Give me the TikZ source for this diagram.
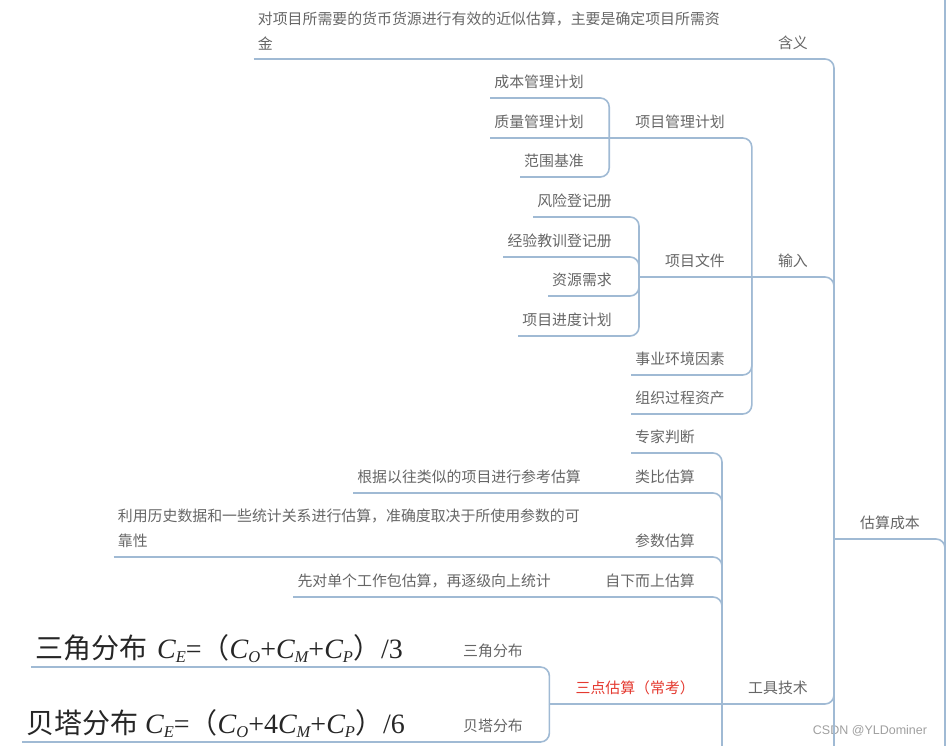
\documentclass[tikz,border=0pt]{standalone}
\usepackage{fontspec}
\setmainfont{Noto Sans CJK SC}
\newfontfamily\latinsans{Liberation Sans}
\newfontfamily\formulaserif{Liberation Serif}
\usetikzlibrary{calc}

\definecolor{busline}{RGB}{160,186,212}
\definecolor{topictext}{RGB}{102,102,102}
\definecolor{hotred}{RGB}{228,58,48}

% C with an italic subscript, as in the formulas
\newcommand{\cvar}[1]{{\formulaserif\itshape C\raisebox{-0.35ex}{\fontsize{16.5pt}{16.5pt}\selectfont #1}}}

\begin{document}
\begin{tikzpicture}[
    x=1pt, y=-1pt,
    uline/.style={draw=busline, line width=1.6pt},
    conn/.style={uline, rounded corners=9pt},
    topic/.style={font=\fontsize{14.9pt}{25pt}\selectfont, text=topictext,
      inner xsep=4pt, inner ysep=9pt, anchor=south east,
      append after command={(\tikzlastnode.south west) edge[uline] (\tikzlastnode.south east)}},
    hub/.style={topic, execute at begin node=\hspace*{22pt}},
    note/.style={topic, align=left},
    formula/.style={topic, font=\fontsize{28pt}{30pt}\selectfont, text=black!85, inner ysep=4pt}
  ]
  \useasboundingbox (0,0) rectangle (948,746);

  % Root bus and the main topic
  \coordinate (root) at (945,746);
  \coordinate (roottop) at (945,0);
  \node[hub] (gscb) at (924,539) {估算成本};

  % Meaning
  \node[hub] (hy) at (812,59) {含义};
  \node[note] (hyd) at (724,59) {对项目所需要的货币货源进行有效的近似估算，主要是确定项目所需资\\金};

  % Inputs
  \node[hub] (sr) at (812,277) {输入};
  \node[hub] (xmgl) at (729,138) {项目管理计划};
  \node[topic] (cbgl) at (588,98) {成本管理计划};
  \node[topic] (zlgl) at (588,138) {质量管理计划};
  \node[topic] (fwjz) at (588,177) {范围基准};
  \node[hub] (xmwj) at (729,277) {项目文件};
  \node[topic] (fxdj) at (616,217) {风险登记册};
  \node[topic] (jyjx) at (616,257) {经验教训登记册};
  \node[topic] (zyxq) at (616,296) {资源需求};
  \node[topic] (jdjh) at (616,336) {项目进度计划};
  \node[topic] (syhj) at (729,375) {事业环境因素};
  \node[topic] (zzgc) at (729,414) {组织过程资产};

  % Tools and techniques
  \node[hub] (gjjs) at (812,704) {工具技术};
  \node[topic] (zjpd) at (699,453) {专家判断};
  \node[hub] (lbgs) at (699,493) {类比估算};
  \node[note] (lbgsd) at (585,493) {根据以往类似的项目进行参考估算};
  \node[hub] (csgs) at (699,557) {参数估算};
  \node[note] (csgsd) at (584,557) {利用历史数据和一些统计关系进行估算，准确度取决于所使用参数的可\\靠性};
  \node[hub] (zxsg) at (699,597) {自下而上估算};
  \node[note] (zxsgd) at (555,597) {先对单个工作包估算，再逐级向上统计};
  \node[hub, text=hotred] (sdgs) at (699,704) {三点估算（常考）};
  \node[hub] (sjfb) at (527,667) {三角分布};
  \node[formula] (sjgs) at (407,667) {三角分布\hspace{10pt}\cvar{E}{\formulaserif=}（\cvar{O}{\formulaserif+}\cvar{M}{\formulaserif+}\cvar{P}）{\formulaserif/3}};
  \node[hub] (btfb) at (527,742) {贝塔分布};
  \node[formula] (btgs) at (409,742) {贝塔分布\hspace{7pt}\cvar{E}{\formulaserif=}（\cvar{O}{\formulaserif+4}\cvar{M}{\formulaserif+}\cvar{P}）{\formulaserif/6}};

  \node[font=\latinsans\fontsize{12.5pt}{14pt}\selectfont, text=gray!75] (csdn) at (870,731) {CSDN @YLDominer};

  % Connectors
  \draw[uline] (roottop) -- (root);
  \draw[conn] (root) |- (gscb.south east);
  \draw[conn] (gscb.south west) |- (hy.south east);
  \draw[conn] (gscb.south west) |- (sr.south east);
  \draw[conn] (gscb.south west) |- (gjjs.south east);
  \draw[uline] (gscb.south west) -- (gscb.south west |- root);
  \draw[uline] (hy.south west) -- (hyd.south east);

  \draw[conn] (sr.south west) |- (xmgl.south east);
  \draw[uline] (sr.south west) -- (xmwj.south east);
  \draw[conn] (sr.south west) |- (syhj.south east);
  \draw[conn] (sr.south west) |- (zzgc.south east);
  \draw[conn] (xmgl.south west) |- (cbgl.south east);
  \draw[uline] (xmgl.south west) -- (zlgl.south east);
  \draw[conn] (xmgl.south west) |- (fwjz.south east);
  \draw[conn] (xmwj.south west) |- (fxdj.south east);
  \draw[conn] (xmwj.south west) |- (jyjx.south east);
  \draw[conn] (xmwj.south west) |- (zyxq.south east);
  \draw[conn] (xmwj.south west) |- (jdjh.south east);

  \draw[conn] (gjjs.south west) |- (zjpd.south east);
  \draw[conn] (gjjs.south west) |- (lbgs.south east);
  \draw[conn] (gjjs.south west) |- (csgs.south east);
  \draw[conn] (gjjs.south west) |- (zxsg.south east);
  \draw[uline] (gjjs.south west) -- (sdgs.south east);
  \draw[uline] (gjjs.south west) -- (gjjs.south west |- root);
  \draw[uline] (lbgs.south west) -- (lbgsd.south east);
  \draw[uline] (csgs.south west) -- (csgsd.south east);
  \draw[uline] (zxsg.south west) -- (zxsgd.south east);
  \draw[conn] (sdgs.south west) |- (sjfb.south east);
  \draw[conn] (sdgs.south west) |- (btfb.south east);
  \draw[uline] (sjfb.south west) -- (sjgs.south east);
  \draw[uline] (btfb.south west) -- (btgs.south east);
\end{tikzpicture}
\end{document}
